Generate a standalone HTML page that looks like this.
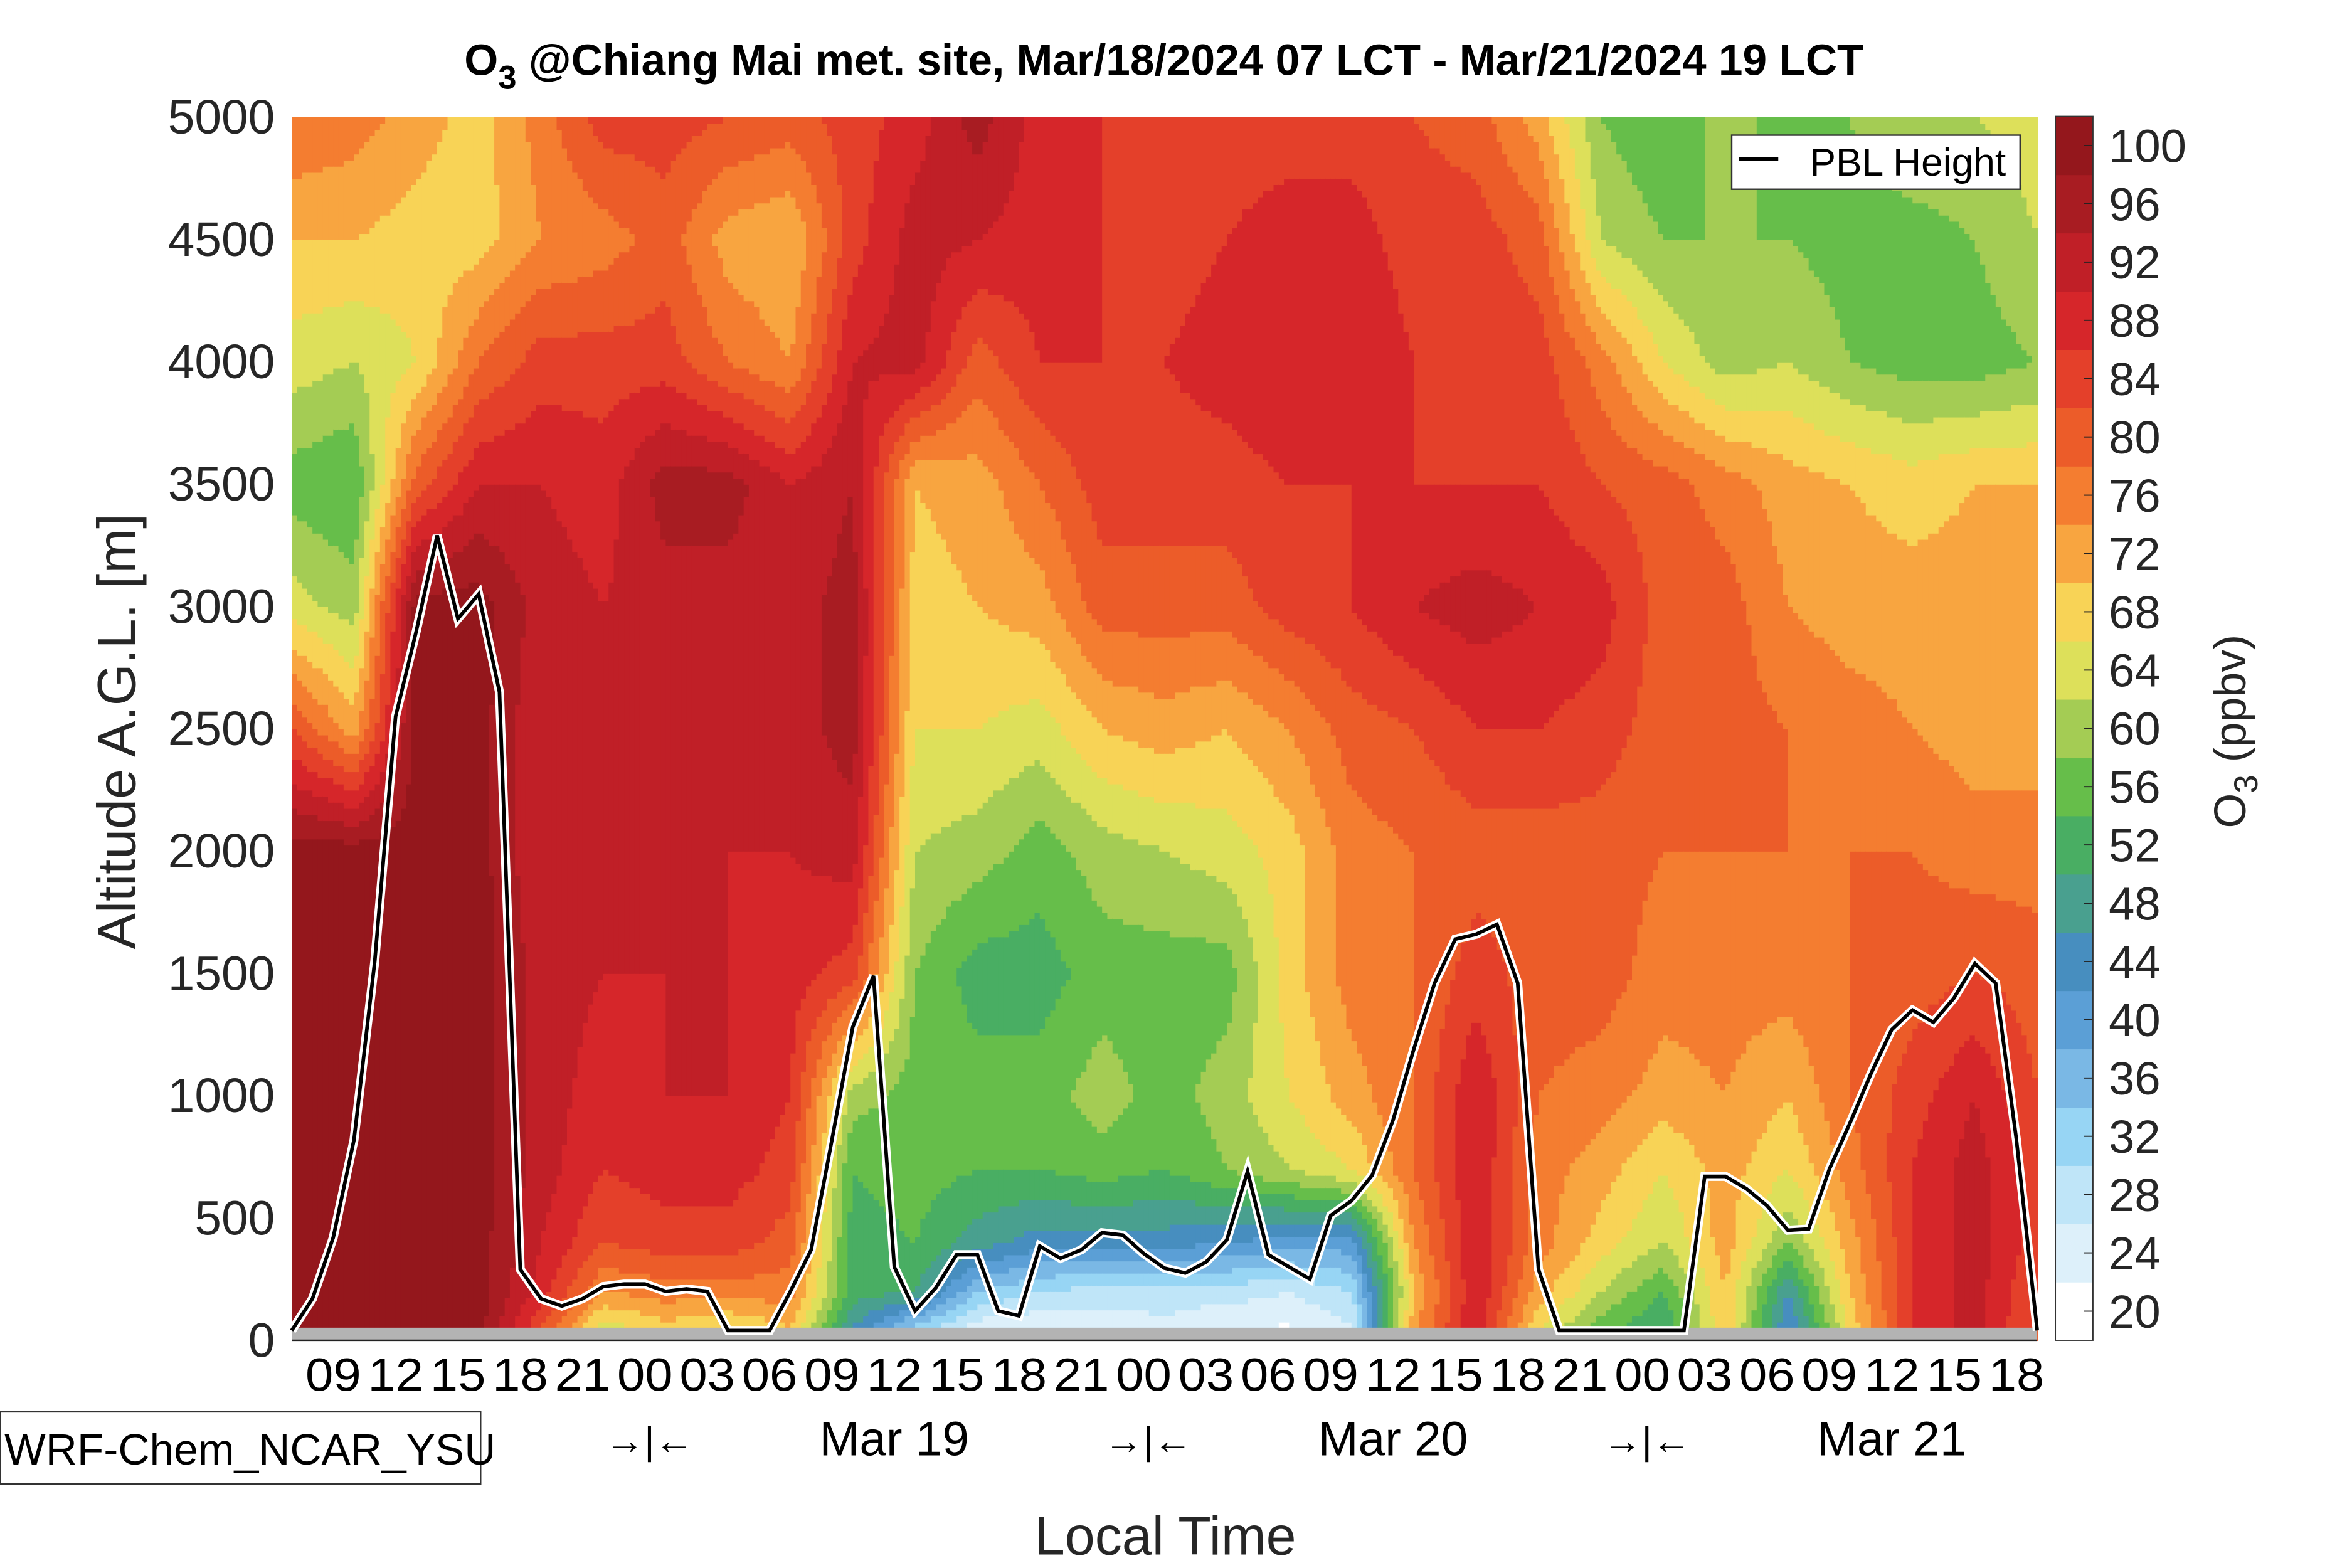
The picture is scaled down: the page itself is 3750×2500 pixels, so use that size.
<!DOCTYPE html>
<html><head><meta charset="utf-8">
<style>
html,body{margin:0;padding:0;background:#fff;}
svg{display:block;}
text{font-family:"Liberation Sans",sans-serif;}
</style></head>
<body>
<svg id="chart" width="3750" height="2500" viewBox="0 0 1566 1044" xmlns="http://www.w3.org/2000/svg">
<g id="heat"></g>
<rect x="194.2" y="884" width="1162.2" height="8.4" fill="#b3b3b3"/>
<g id="pbl"></g>
<line x1="194.2" y1="892.4" x2="1356.4" y2="892.4" stroke="#222" stroke-width="1"/>
<g id="axes"></g>
<g id="cbar"></g>
<text x="775" y="50" text-anchor="middle" font-size="29" font-weight="bold">O<tspan font-size="22" dy="9">3</tspan><tspan dy="-9"> @Chiang Mai met. site, Mar/18/2024 07 LCT - Mar/21/2024 19 LCT</tspan></text>
<text transform="translate(90,487) rotate(-90)" text-anchor="middle" font-size="36" fill="#262626">Altitude A.G.L. [m]</text>
<text x="776" y="1035" text-anchor="middle" font-size="36" fill="#262626">Local Time</text>
<text transform="translate(1495,487) rotate(-90)" text-anchor="middle" font-size="30" fill="#262626">O<tspan font-size="22" dy="8">3</tspan><tspan dy="-8"> (ppbv)</tspan></text>
<g>
<rect x="0" y="940" width="320" height="48" fill="#fff" stroke="#333" stroke-width="1"/>
<text x="3" y="975" font-size="29" fill="#000">WRF-Chem_NCAR_YSU</text>
</g>
<g>
<rect x="1153" y="90" width="192" height="36" fill="#fff" stroke="#333" stroke-width="1"/>
<line x1="1158" y1="106" x2="1184" y2="106" stroke="#000" stroke-width="2.5"/>
<text x="1205" y="117" font-size="26" fill="#000">PBL Height</text>
</g>
</svg>
<script>
// ---- data ----
const hours = [0,3,6,9,12,15,18,21,24,27,30,33,36,39,42,45,48,51,54,57,60,63,66,69,72,75,78,81,84];
const altitudes = [0,200,400,700,1000,1500,2000,2500,3000,3500,4000,4500,5000];
// O3 (ppbv) per time column, values ordered by altitudes
const o3Col0  = [100,100,100,100,100,100,100,82,64,56,64,70,78];
const o3Col1  = [100,100,100,100,100,100,100,72,60,54,62,70,76];
const o3Col2  = [100,100,100,100,100,100,100,100,100,80,66,68,72];
const o3Col3  = [100,100,100,100,100,100,100,100,100,90,78,68,68];
const o3Col4  = [80,88,90,92,92,92,90,90,92,90,84,74,76];
const o3Col5  = [60,74,82,86,88,90,90,90,90,88,84,76,84];
const o3Col6  = [66,76,84,88,90,90,92,92,92,96,84,80,84];
const o3Col7  = [62,76,84,88,90,90,90,92,92,96,78,72,82];
const o3Col8  = [68,76,80,84,86,88,90,92,92,90,74,70,80];
const o3Col9  = [44,52,52,54,60,84,92,96,96,94,90,84,84];
const o3Col10 = [26,50,54,56,56,58,62,66,68,70,92,92,88];
const o3Col11 = [20,34,48,54,56,52,60,66,70,72,80,90,96];
const o3Col12 = [20,30,44,54,56,52,56,64,72,78,86,88,88];
const o3Col13 = [22,28,44,56,60,56,60,70,80,84,86,86,86];
const o3Col14 = [24,28,44,54,56,56,62,72,80,84,86,84,82];
const o3Col15 = [20,28,42,58,60,56,64,70,80,84,88,86,84];
const o3Col16 = [20,26,40,62,66,68,68,74,84,86,90,88,84];
const o3Col17 = [24,30,40,66,72,76,76,80,86,86,90,88,84];
const o3Col18 = [74,70,74,78,78,78,78,82,90,86,86,84,82];
const o3Col19 = [90,90,90,90,90,84,80,86,92,86,84,84,80];
const o3Col20 = [64,72,76,76,78,80,80,86,90,86,84,80,72];
const o3Col21 = [54,62,68,72,76,80,80,84,88,82,76,62,58];
const o3Col22 = [48,54,62,66,72,76,78,80,80,80,66,58,54];
const o3Col23 = [70,70,72,72,74,76,78,80,80,76,60,58,60];
const o3Col24 = [40,46,58,66,70,76,78,78,74,72,62,58,56];
const o3Col25 = [66,70,72,76,78,78,78,76,72,70,58,56,58];
const o3Col26 = [86,86,86,86,84,80,78,74,72,68,56,56,62];
const o3Col27 = [92,92,92,92,90,82,76,72,72,70,56,58,62];
const o3Col28 = [80,82,84,84,82,80,76,72,72,70,58,62,64];
const o3Grid = [o3Col0,o3Col1,o3Col2,o3Col3,o3Col4,o3Col5,o3Col6,o3Col7,o3Col8,o3Col9,o3Col10,o3Col11,o3Col12,o3Col13,o3Col14,o3Col15,o3Col16,o3Col17,o3Col18,o3Col19,o3Col20,o3Col21,o3Col22,o3Col23,o3Col24,o3Col25,o3Col26,o3Col27,o3Col28];
// PBL height (m), hourly from hour 0
const pblHeight = [40,170,420,820,1550,2550,2900,3290,2950,3050,2650,290,170,140,170,220,230,230,200,210,200,40,40,40,200,370,820,1280,1490,300,120,215,350,350,120,100,385,335,370,440,430,355,295,275,320,410,690,350,300,250,510,570,675,900,1190,1460,1640,1660,1700,1460,290,40,40,40,40,40,40,40,670,670,620,550,450,455,700,890,1090,1270,1350,1300,1400,1540,1460,820,40];
const yTicks = [0,500,1000,1500,2000,2500,3000,3500,4000,4500,5000];
const xTickHours = [2,5,8,11,14,17,20,23,26,29,32,35,38,41,44,47,50,53,56,59,62,65,68,71,74,77,80,83];
const xTickLabels = ["09","12","15","18","21","00","03","06","09","12","15","18","21","00","03","06","09","12","15","18","21","00","03","06","09","12","15","18"];
const dayLabels = ["Mar 19","Mar 20","Mar 21"];
const dayHours = [29,53,77];
const midnightHours = [17,41,65];
const cbLevels = [20,24,28,32,36,40,44,48,52,56,60,64,68,72,76,80,84,88,92,96,100];
const cbColors = ["#ffffff","#ddf0fa","#bfe5f8","#97d5f4","#7ab8e5","#5b9fd6","#478ebf","#49a08f","#49ae63","#66be4a","#a4cc54","#dde05a","#f8d356","#f8a540","#f47d30","#ec5c29","#e4402a","#d6262a","#c01f27","#a81c22","#94171c"];

// ---- scales ----
const X0=194.2, X1=1356.4, Y0=892.4, Y1=78;
const xs = h => X0 + (X1-X0)*h/84;
const ys = a => Y0 - (Y0-Y1)*a/5000;
const NS="http://www.w3.org/2000/svg";
function mk(tag, attrs, parent){const e=document.createElementNS(NS,tag);for(const k in attrs)e.setAttribute(k,attrs[k]);parent.appendChild(e);return e;}

function interp(keys, v){
  if(v<=keys[0]) return [0,0,0];
  for(let i=0;i<keys.length-1;i++){ if(v<=keys[i+1]){return [i,i+1,(v-keys[i])/(keys[i+1]-keys[i])];} }
  const n=keys.length-1; return [n,n,0];
}
function o3At(h,a){
  const [i0,i1,ft]=interp(hours,h);
  const [j0,j1,fa]=interp(altitudes,a);
  const c0=o3Grid[i0][j0]*(1-fa)+o3Grid[i0][j1]*fa;
  const c1=o3Grid[i1][j0]*(1-fa)+o3Grid[i1][j1]*fa;
  return c0*(1-ft)+c1*ft;
}
function band(v){let k=Math.floor((v-18)/4);return Math.max(0,Math.min(20,k));}

// heatmap
const heat=document.getElementById('heat');
const dh=0.25, da=25;
for(let h=0; h<84; h+=dh){
  let runStart=0, runBand=band(o3At(h+dh/2,da/2));
  for(let a=da; a<=5000; a+=da){
    const b = a<5000 ? band(o3At(h+dh/2,a+da/2)) : -1;
    if(b!==runBand){
      const r=mk('rect',{x:xs(h).toFixed(2),y:ys(a).toFixed(2),width:(xs(h+dh)-xs(h)+0.4).toFixed(2),height:(ys(runStart)-ys(a)+0.4).toFixed(2),fill:cbColors[runBand]},heat);
      
      
      runStart=a; runBand=b;
    }
  }
}

// PBL line
const pblG=document.getElementById('pbl');
const pts=pblHeight.map((v,i)=>xs(i).toFixed(2)+','+ys(v).toFixed(2)).join(' ');
const pw=mk('polyline',{points:pts,fill:'none',stroke:'#fff','stroke-width':6,'stroke-linejoin':'miter'},pblG);


const pb=mk('polyline',{points:pts,fill:'none',stroke:'#000','stroke-width':2.4,'stroke-linejoin':'miter'},pblG);



// axes
const ax=document.getElementById('axes');
yTicks.forEach(v=>{
  const t=mk('text',{x:183,y:(ys(v)+11).toFixed(1),'text-anchor':'end','font-size':32,fill:'#262626'},ax);
  t.textContent=v;
  
  
});
xTickHours.forEach((h,i)=>{
  const t=mk('text',{x:xs(h).toFixed(1),y:926,'text-anchor':'middle','font-size':31,fill:'#000',textLength:37,lengthAdjust:'spacingAndGlyphs'},ax);
  t.textContent=xTickLabels[i];
  
  
});
dayHours.forEach((h,i)=>{
  const t=mk('text',{x:xs(h).toFixed(1),y:969,'text-anchor':'middle','font-size':32,fill:'#000'},ax);
  t.textContent=dayLabels[i];
  
  
});
midnightHours.forEach(h=>{
  const t=mk('text',{x:(xs(h)+3).toFixed(1),y:968,'text-anchor':'middle','font-size':26,fill:'#000'},ax);
  t.textContent='\u2192|\u2190';
  
  
});

// colorbar
const cb=document.getElementById('cbar');
const CX=1368.5, CW=25, CT=77.5, CB=892.4, bh=(CB-CT)/cbLevels.length;
cbLevels.forEach((v,i)=>{
  const yTop=CB-(i+1)*bh;
  const r=mk('rect',{x:CX,y:yTop.toFixed(2),width:CW,height:(bh+0.3).toFixed(2),fill:cbColors[i]},cb);
  
  
  const yc=yTop+bh/2;
  mk('line',{x1:CX+CW-6,x2:CX+CW,y1:yc.toFixed(2),y2:yc.toFixed(2),stroke:'#222','stroke-width':0.8},cb);
  const t=mk('text',{x:1404,y:(yc+11).toFixed(2),'font-size':31,fill:'#262626'},cb);
  t.textContent=v;
  
  
});
mk('rect',{x:CX,y:CT,width:CW,height:CB-CT,fill:'none',stroke:'#333','stroke-width':0.8},cb);
</script>
</body></html>
